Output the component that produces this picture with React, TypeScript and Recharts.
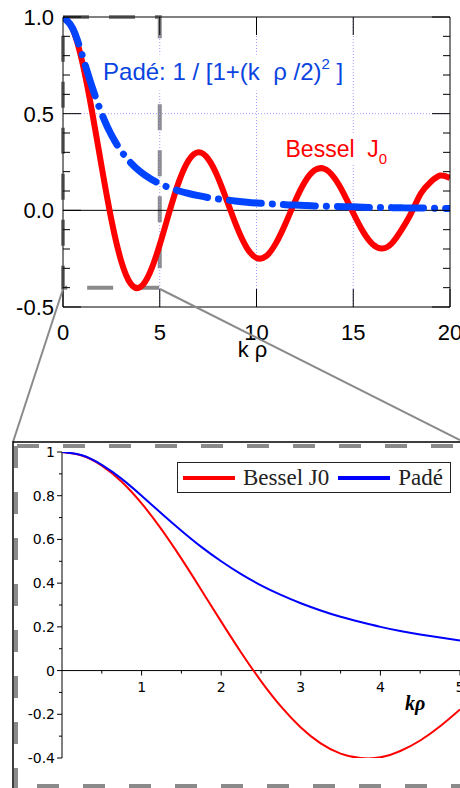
import React from "react";
import {
  LineChart,
  Line,
  XAxis,
  YAxis,
  ReferenceLine,
  ReferenceArea,
  ReferenceDot,
  Legend,
  Label,
} from "recharts";

// top panel: k rho from 0 to 20
const wideK = [
  0, 0.5, 1, 1.5, 2, 2.5, 3, 3.5, 4, 4.5, 5, 5.5, 6, 6.5, 7, 7.5, 8, 8.5, 9, 9.5,
  10, 10.5, 11, 11.5, 12, 12.5, 13, 13.5, 14, 14.5, 15, 15.5, 16, 16.5, 17, 17.5,
  18, 18.5, 19, 19.5, 20,
];
const wideBessel = [
  1.0, 0.938, 0.765, 0.512, 0.224, -0.048, -0.26, -0.38, -0.397, -0.32, -0.178,
  -0.007, 0.151, 0.26, 0.3, 0.266, 0.172, 0.042, -0.09, -0.194, -0.246, -0.237,
  -0.171, -0.068, 0.048, 0.147, 0.207, 0.215, 0.171, 0.088, -0.014, -0.109,
  -0.175, -0.197, -0.17, -0.1, -0.013, 0.088, 0.147, 0.18, 0.167,
];
const widePade = [
  1.0, 0.941, 0.8, 0.64, 0.5, 0.39, 0.308, 0.246, 0.2, 0.165, 0.138, 0.117, 0.1,
  0.087, 0.076, 0.066, 0.059, 0.053, 0.047, 0.042, 0.038, 0.035, 0.032, 0.029,
  0.027, 0.025, 0.023, 0.022, 0.02, 0.019, 0.018, 0.016, 0.015, 0.015, 0.014,
  0.013, 0.012, 0.012, 0.011, 0.01, 0.01,
];
const wideXTicks = [0, 5, 10, 15, 20];
const wideYTicks = [
  -0.5, -0.4, -0.3, -0.2, -0.1, 0, 0.1, 0.2, 0.3, 0.4, 0.5, 0.6, 0.7, 0.8, 0.9, 1,
];
const wideGridX = [5, 10, 15];

// bottom panel: zoom on 0 .. 5
const zoomK = [
  0, 0.25, 0.5, 0.75, 1, 1.25, 1.5, 1.75, 2, 2.25, 2.5, 2.75, 3, 3.25, 3.5, 3.75,
  4, 4.25, 4.5, 4.75, 5,
];
const zoomBessel = [
  1.0, 0.984, 0.938, 0.864, 0.765, 0.646, 0.512, 0.369, 0.224, 0.083, -0.048,
  -0.164, -0.26, -0.333, -0.38, -0.4, -0.397, -0.368, -0.32, -0.255, -0.178,
];
const zoomPade = [
  1.0, 0.985, 0.941, 0.877, 0.8, 0.719, 0.64, 0.566, 0.5, 0.441, 0.39, 0.346,
  0.308, 0.275, 0.246, 0.222, 0.2, 0.181, 0.165, 0.151, 0.138,
];
const zoomYTicks = [
  -0.4, -0.3, -0.2, -0.1, 0, 0.1, 0.2, 0.3, 0.4, 0.5, 0.6, 0.7, 0.8, 0.9, 1,
];
const zoomXTicks = [1, 2, 3, 4, 5];
const zoomXMinor = [0.5, 1.5, 2.5, 3.5, 4.5];

const wideData = wideK.map((k, i) => ({ k, bessel: wideBessel[i], pade: widePade[i] }));
const zoomData = zoomK.map((k, i) => ({ k, bessel: zoomBessel[i], pade: zoomPade[i] }));

const SANS = '"Liberation Sans", Arial, sans-serif';
const SERIF = '"Liberation Serif", "Times New Roman", serif';
const GREY = "#8a8a8a";
const BLUE = "#0044ff";

const isStep = (v: number, step: number) =>
  Math.abs(v / step - Math.round(v / step)) < 1e-6;

function WideLeftTick(p: any) {
  const v = p.payload.value;
  const major = isStep(v, 0.5);
  return (
    <g>
      <line x1={p.x} x2={p.x + (major ? 18 : 7)} y1={p.y} y2={p.y} stroke="#000" />
      {major && (
        <text x={p.x - 9} y={p.y} dy="0.36em" textAnchor="end" fontFamily={SANS} fontSize={22} fill="#000">
          {v.toFixed(1)}
        </text>
      )}
    </g>
  );
}

function WideRightTick(p: any) {
  const major = isStep(p.payload.value, 0.5);
  return <line x1={p.x} x2={p.x - (major ? 18 : 7)} y1={p.y} y2={p.y} stroke="#000" />;
}

function WideBottomTick(p: any) {
  return (
    <g>
      <line x1={p.x} x2={p.x} y1={p.y} y2={p.y - 18} stroke="#000" />
      <text x={p.x} y={p.y + 33} textAnchor="middle" fontFamily={SANS} fontSize={22} fill="#000">
        {p.payload.value}
      </text>
    </g>
  );
}

function WideTopTick(p: any) {
  return <line x1={p.x} x2={p.x} y1={p.y} y2={p.y + 18} stroke="#000" />;
}

function ZoomLeftTick(p: any) {
  const v = p.payload.value;
  const major = isStep(v, 0.2);
  return (
    <g>
      <line x1={p.x} x2={p.x - (major ? 5 : 3)} y1={p.y} y2={p.y} stroke="#000" />
      {major && (
        <text x={p.x - 7} y={p.y} dy="0.36em" textAnchor="end" fontFamily='"DejaVu Sans", sans-serif' fontSize={14} fill="#000">
          {String(Number(v.toFixed(1)))}
        </text>
      )}
    </g>
  );
}

function ZoomLegend({ payload }: any) {
  return (
    <div
      style={{
        boxSizing: "border-box",
        width: 274,
        height: 31,
        border: "1.5px solid #222",
        background: "#fff",
        display: "flex",
        alignItems: "center",
        paddingLeft: 5,
        fontFamily: SERIF,
        fontSize: 23,
        lineHeight: "1",
        color: "#222",
        whiteSpace: "nowrap",
      }}
    >
      {(payload || []).map((e: any) => (
        <span key={e.value} style={{ display: "flex", alignItems: "center", marginRight: 9, flexShrink: 0 }}>
          <span style={{ width: 52, height: 4, background: e.color, marginRight: 8, flexShrink: 0 }} />
          {e.value}
        </span>
      ))}
    </div>
  );
}

export default function App() {
  return (
    <div style={{ position: "absolute", left: 0, top: 0, width: 460, height: 788, background: "#fff" }}>
      <div style={{ position: "absolute", left: 0, top: 0 }}>
        <LineChart width={460} height={380} data={wideData} margin={{ top: 0, right: 0, bottom: 0, left: 0 }}>
          <XAxis
            xAxisId="b"
            dataKey="k"
            type="number"
            domain={[0, 20]}
            allowDataOverflow
            ticks={wideXTicks}
            interval={0}
            height={73}
            tickSize={0}
            tickMargin={0}
            stroke="#000"
            tick={(p: any) => <WideBottomTick {...p} />}
          >
            <Label
              value="k ρ"
              position="insideBottom"
              offset={23}
              dx={-4}
              style={{ fontFamily: SANS, fontSize: 22, fill: "#000" }}
            />
          </XAxis>
          <XAxis
            xAxisId="t"
            orientation="top"
            dataKey="k"
            type="number"
            domain={[0, 20]}
            allowDataOverflow
            ticks={[5, 10, 15]}
            interval={0}
            height={17}
            tickSize={0}
            tickMargin={0}
            stroke="#000"
            tick={(p: any) => <WideTopTick {...p} />}
          />
          <YAxis
            yAxisId="l"
            type="number"
            domain={[-0.5, 1]}
            allowDataOverflow
            ticks={wideYTicks}
            interval={0}
            width={63}
            tickSize={0}
            tickMargin={0}
            stroke="#000"
            tick={(p: any) => <WideLeftTick {...p} />}
          />
          <YAxis
            yAxisId="r"
            orientation="right"
            type="number"
            domain={[-0.5, 1]}
            allowDataOverflow
            ticks={wideYTicks}
            interval={0}
            width={10}
            tickSize={0}
            tickMargin={0}
            stroke="#000"
            tick={(p: any) => <WideRightTick {...p} />}
          />
          {wideGridX.map((g) => (
            <ReferenceLine key={g} xAxisId="b" yAxisId="l" x={g} stroke="#9d9dff" strokeDasharray="1 2" />
          ))}
          <ReferenceLine xAxisId="b" yAxisId="l" y={0.5} stroke="#9d9dff" strokeDasharray="1 2" />
          <ReferenceLine xAxisId="b" yAxisId="l" y={0} stroke="#000" />
          <ReferenceDot
            xAxisId="b"
            yAxisId="l"
            x={2.07}
            y={0.676}
            r={1}
            shape={(p: any) => (
              <g>
                <rect x={p.cx - 2} y={p.cy - 25} width={246} height={36} fill="#fff" />
                <text x={p.cx} y={p.cy} fontFamily={SANS} fontSize={24} fill="#0a44e0">
                  Padé: 1 / [1+(k{"\u00a0\u00a0"}ρ /2)
                  <tspan dy={-11} fontSize={15}>2</tspan>
                  <tspan dy={11}>{"\u00a0]"}</tspan>
                </text>
              </g>
            )}
          />
          <ReferenceDot
            xAxisId="b"
            yAxisId="l"
            x={11.5}
            y={0.277}
            r={1}
            shape={(p: any) => (
              <g>
                <rect x={p.cx - 2} y={p.cy - 22} width={106} height={30} fill="#fff" />
                <text x={p.cx} y={p.cy} fontFamily={SANS} fontSize={23} fill="#ff0000">
                  Bessel{"\u00a0\u00a0"}J
                  <tspan dy={7} fontSize={15}>0</tspan>
                </text>
              </g>
            )}
          />
          <Line
            xAxisId="b"
            yAxisId="l"
            type="natural"
            dataKey="bessel"
            stroke="#ff0000"
            strokeWidth={6}
            dot={false}
            isAnimationActive={false}
          />
          <Line
            xAxisId="b"
            yAxisId="l"
            type="natural"
            dataKey="pade"
            stroke={BLUE}
            strokeWidth={7}
            strokeDasharray="32 11 0.1 11"
            strokeLinecap="round"
            dot={false}
            isAnimationActive={false}
          />
          <ReferenceArea
            xAxisId="b"
            yAxisId="l"
            x1={0}
            x2={5}
            y1={-0.4}
            y2={1}
            fill="none"
            fillOpacity={0}
            stroke={GREY}
            strokeWidth={4}
            strokeDasharray="26 20"
          />
        </LineChart>
      </div>

      <div style={{ position: "absolute", left: 0, top: 430 }}>
        <LineChart width={460} height={358} data={zoomData} margin={{ top: 22, right: 0, bottom: 30, left: 0 }}>
          <XAxis dataKey="k" type="number" domain={[0, 5]} allowDataOverflow hide />
          <YAxis
            type="number"
            domain={[-0.4, 1]}
            allowDataOverflow
            ticks={zoomYTicks}
            interval={0}
            width={62}
            tickSize={0}
            tickMargin={0}
            stroke="#000"
            tick={(p: any) => <ZoomLeftTick {...p} />}
          />
          <ReferenceLine y={0} stroke="#000" />
          {zoomXMinor.map((t) => (
            <ReferenceDot
              key={"m" + t}
              x={t}
              y={0}
              r={1}
              shape={(p: any) => <line x1={p.cx} x2={p.cx} y1={p.cy} y2={p.cy + 3} stroke="#000" />}
            />
          ))}
          {zoomXTicks.map((t) => (
            <ReferenceDot
              key={"t" + t}
              x={t}
              y={0}
              r={1}
              shape={(p: any) => (
                <g>
                  <line x1={p.cx} x2={p.cx} y1={p.cy} y2={p.cy + 5} stroke="#000" />
                  <text
                    x={p.cx}
                    y={p.cy + 21}
                    textAnchor="middle"
                    fontFamily='"DejaVu Sans", sans-serif'
                    fontSize={14}
                    fill="#000"
                  >
                    {t}
                  </text>
                </g>
              )}
            />
          ))}
          <Line
            type="natural"
            dataKey="bessel"
            name="Bessel J0"
            stroke="#ff0000"
            strokeWidth={2}
            dot={false}
            isAnimationActive={false}
          />
          <Line
            type="natural"
            dataKey="pade"
            name="Padé"
            stroke="#0000ff"
            strokeWidth={2}
            dot={false}
            isAnimationActive={false}
          />
          <Legend
            layout="horizontal"
            verticalAlign="middle"
            align="center"
            wrapperStyle={{ left: 177, top: 32, width: 274, height: 31 }}
            content={(p: any) => <ZoomLegend {...p} />}
          />
        </LineChart>
      </div>

      <svg
        width={460}
        height={788}
        style={{ position: "absolute", left: 0, top: 0, pointerEvents: "none" }}
      >
        <line x1={63} y1={289} x2={13} y2={442} stroke={GREY} strokeWidth={2} />
        <line x1={160} y1={289} x2={460} y2={440} stroke={GREY} strokeWidth={2} />
        <path d="M13 788 V442 H460" stroke="#000" strokeWidth={1.5} fill="none" />
        <line x1={17} y1={446} x2={460} y2={446} stroke={GREY} strokeWidth={4} strokeDasharray="22 24" />
        <line x1={16} y1={446} x2={16} y2={788} stroke={GREY} strokeWidth={4} strokeDasharray="22 24" />
        <line x1={17} y1={786} x2={460} y2={786} stroke={GREY} strokeWidth={4} strokeDasharray="22 24" strokeDashoffset={-20} />
        <text x={405} y={710} fontFamily={SERIF} fontWeight="bold" fontStyle="italic" fontSize={20} fill="#000">
          kρ
        </text>
      </svg>
    </div>
  );
}
